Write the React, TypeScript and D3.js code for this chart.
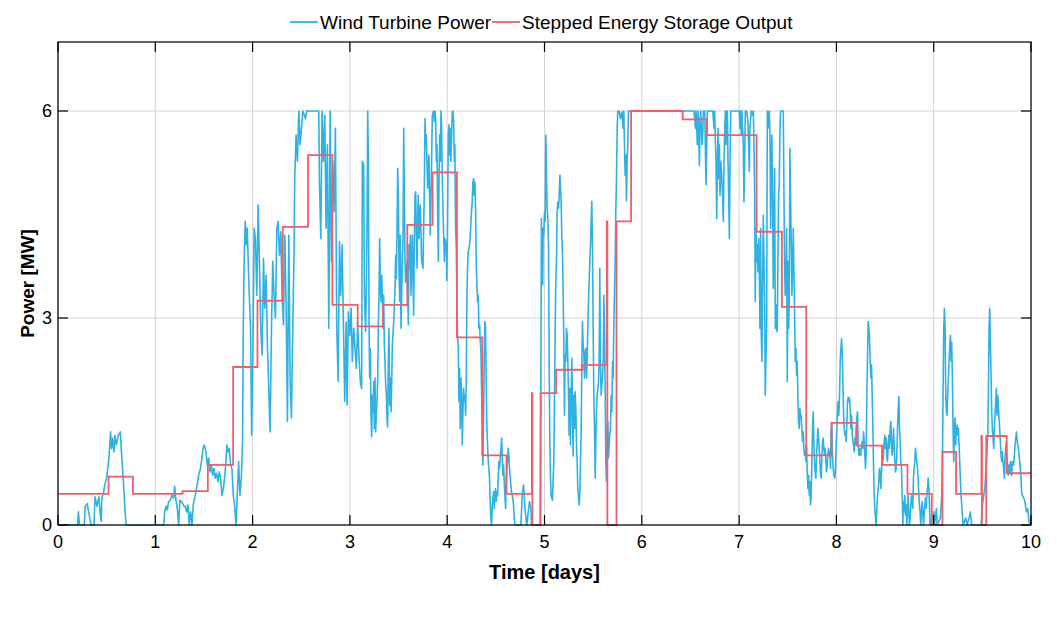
import React from "react";
import * as d3 from "d3";

const W = 1057;
const H = 621;
const M = { left: 58, right: 1031, top: 42, bottom: 525 };

const xTicks = [0, 1, 2, 3, 4, 5, 6, 7, 8, 9, 10];
const yTicks = [0, 3, 6];

const seriesNames = ["Wind Turbine Power", "Stepped Energy Storage Output"];
const seriesColors = ["#2fb2e2", "#ee5f6c"];

// Wind turbine power [days, MW]
const windDay0: [number, number][] = [
  [0, 0], [0.2, 0], [0.21, 0.19], [0.22, 0], [0.27, 0], [0.28, 0.27], [0.3, 0.31], [0.32, 0.15], [0.34, 0],
  [0.37, 0], [0.38, 0.41], [0.4, 0.27], [0.42, 0.41], [0.435, 0.14], [0.445, 0.05], [0.45, 0.39], [0.47, 0.48],
  [0.48, 0.58], [0.5, 0.68], [0.52, 0.92], [0.53, 1.11], [0.54, 1.35], [0.55, 1.11], [0.56, 1.26], [0.575, 1.06],
  [0.585, 1.3], [0.6, 1.16], [0.62, 1.3], [0.64, 1.35], [0.65, 1.11], [0.67, 0.68], [0.69, 0.19], [0.7, 0],
];
const windDay1: [number, number][] = [
  [1.086, 0], [1.096, 0.19], [1.11, 0.27], [1.123, 0.22], [1.137, 0.34], [1.154, 0.36], [1.171, 0.43], [1.188, 0.39],
  [1.199, 0.56], [1.212, 0.36], [1.226, 0.24], [1.24, 0], [1.253, 0.36], [1.267, 0.34], [1.281, 0.31], [1.295, 0.27],
  [1.308, 0.27], [1.322, 0.19], [1.336, 0.29], [1.349, 0], [1.363, 0.19], [1.377, 0], [1.39, 0.29], [1.404, 0.39],
  [1.418, 0.48], [1.432, 0.6], [1.445, 0.72], [1.462, 0.8], [1.479, 0.97], [1.49, 1.11], [1.503, 1.16], [1.521, 1.06],
  [1.534, 0.87], [1.548, 0.97], [1.562, 0.77], [1.575, 0.87], [1.589, 0.72], [1.603, 0.82], [1.616, 0.68], [1.63, 0.75],
  [1.644, 0.63], [1.658, 0.77], [1.671, 0.68], [1.685, 0.43], [1.699, 0.53], [1.712, 0.68], [1.726, 0.92], [1.736, 1.16],
  [1.747, 1.06], [1.76, 1.11], [1.774, 0.87], [1.788, 0.82], [1.801, 0.43], [1.815, 0.29], [1.829, 0], [1.842, 0.43],
  [1.856, 0.92], [1.87, 0.43], [1.884, 0.68], [1.897, 1.21], [1.904, 2.85], [1.911, 3.62], [1.918, 4.15], [1.925, 4.4],
  [1.935, 4.06], [1.945, 4.3], [1.955, 3.82], [1.966, 3.33], [1.979, 2.85], [1.99, 1.3],
];
const windDay2: [number, number][] = [
  [2.002, 2.37], [2.016, 4.3], [2.029, 4.15], [2.043, 3.33], [2.057, 4.64], [2.07, 3.82], [2.084, 2.85], [2.098, 2.46],
  [2.112, 3.86], [2.125, 3.14], [2.139, 3.62], [2.153, 2.56], [2.166, 1.98], [2.18, 1.35], [2.194, 2.85], [2.207, 3.82],
  [2.221, 3.33], [2.235, 3.0], [2.249, 4.3], [2.262, 4.4], [2.276, 3.91], [2.29, 4.25], [2.303, 3.33], [2.317, 2.9],
  [2.331, 4.2], [2.345, 3.14], [2.358, 1.5], [2.372, 4.2], [2.386, 2.08], [2.399, 1.55], [2.413, 2.85], [2.427, 4.06],
  [2.433, 5.02], [2.447, 5.65], [2.461, 5.27], [2.475, 6.0], [2.488, 5.51], [2.502, 5.75], [2.516, 6.0], [2.543, 5.89],
  [2.557, 6.0], [2.68, 6.0], [2.687, 4.98], [2.701, 4.15], [2.714, 6.0], [2.728, 5.27], [2.742, 5.94], [2.755, 4.3],
  [2.769, 5.51], [2.783, 2.85], [2.797, 6.0], [2.81, 3.82], [2.824, 5.27], [2.838, 4.54], [2.851, 5.75], [2.865, 2.85],
  [2.879, 2.08], [2.893, 4.11], [2.906, 3.33], [2.92, 4.06], [2.934, 2.85], [2.947, 1.79], [2.961, 2.94], [2.971, 1.74],
  [2.984, 3.09], [2.998, 2.75],
];
const windDay3: [number, number][] = [
  [3.012, 3.14], [3.025, 2.37], [3.039, 2.85], [3.053, 2.56], [3.066, 2.27], [3.08, 2.94], [3.094, 2.42], [3.107, 2.08],
  [3.121, 1.98], [3.128, 5.27], [3.142, 5.22], [3.149, 3.33], [3.162, 2.8], [3.169, 3.52], [3.176, 4.3], [3.183, 6.0],
  [3.19, 5.27], [3.197, 2.85], [3.203, 2.13], [3.21, 2.56], [3.217, 1.59], [3.224, 1.28], [3.231, 1.88], [3.238, 1.64],
  [3.245, 2.08], [3.251, 1.4], [3.258, 2.13], [3.265, 1.35], [3.272, 1.64], [3.279, 1.79], [3.286, 2.13], [3.292, 2.85],
  [3.299, 3.33], [3.306, 4.15], [3.313, 3.48], [3.32, 3.24], [3.327, 3.62], [3.334, 3.33], [3.34, 2.85], [3.347, 3.33],
  [3.354, 2.61], [3.361, 2.37], [3.368, 2.03], [3.375, 1.88], [3.381, 1.55], [3.388, 1.42], [3.395, 2.37], [3.402, 2.85],
  [3.409, 1.74], [3.416, 2.13], [3.423, 1.64], [3.429, 2.03], [3.436, 2.61], [3.45, 2.94], [3.464, 3.43], [3.47, 3.91],
  [3.477, 3.57], [3.484, 4.2], [3.491, 5.17], [3.498, 4.78], [3.505, 3.67], [3.512, 3.24], [3.518, 4.2], [3.525, 2.85],
  [3.532, 3.33], [3.539, 3.82], [3.546, 4.2], [3.553, 5.75], [3.56, 4.78], [3.566, 3.82], [3.573, 3.52], [3.587, 3.82],
  [3.594, 3.33], [3.601, 2.9], [3.607, 4.06], [3.614, 3.72], [3.621, 4.2], [3.628, 3.33], [3.635, 3.82], [3.642, 4.2],
  [3.649, 3.57], [3.655, 3.04], [3.662, 4.06], [3.669, 4.78], [3.676, 4.83], [3.683, 4.2], [3.69, 3.72], [3.696, 4.4],
  [3.703, 4.78], [3.71, 4.15], [3.724, 4.64], [3.737, 3.82], [3.751, 3.72], [3.765, 4.88], [3.772, 5.89], [3.778, 5.51],
  [3.785, 5.65], [3.792, 5.27], [3.799, 4.88], [3.812, 5.36], [3.826, 4.2], [3.84, 5.27], [3.847, 5.94], [3.86, 6.0],
  [3.867, 5.85], [3.874, 6.0], [3.881, 5.89], [3.888, 5.27], [3.895, 5.51], [3.902, 4.54], [3.909, 3.82], [3.916, 5.02],
  [3.923, 5.65], [3.929, 5.27], [3.936, 6.0], [3.943, 5.75], [3.95, 5.02], [3.957, 4.54], [3.971, 3.82], [3.977, 4.15],
  [3.99, 4.06], [3.997, 3.54],
];
const windDay4: [number, number][] = [
  [4.004, 4.4], [4.011, 5.65], [4.018, 5.8], [4.025, 5.36], [4.032, 5.75], [4.038, 5.27], [4.045, 5.65], [4.052, 5.99],
  [4.059, 6.0], [4.066, 5.85], [4.073, 5.27], [4.079, 5.51], [4.086, 4.3], [4.093, 4.06], [4.1, 3.24], [4.107, 2.75],
  [4.114, 2.56], [4.121, 1.79], [4.127, 2.27], [4.134, 1.4], [4.141, 2.13], [4.148, 1.88], [4.155, 1.16], [4.162, 1.64],
  [4.168, 1.98], [4.175, 1.79], [4.182, 1.88], [4.189, 1.59], [4.196, 2.13], [4.203, 3.33], [4.209, 3.72], [4.216, 3.96],
  [4.223, 4.01], [4.23, 4.06], [4.237, 4.2], [4.244, 4.4], [4.25, 4.54], [4.257, 4.68], [4.264, 4.97], [4.271, 5.02],
  [4.278, 4.78], [4.285, 4.97], [4.292, 4.54], [4.299, 3.72], [4.305, 3.52], [4.312, 3.24], [4.319, 3.33], [4.326, 2.85],
  [4.333, 2.9], [4.34, 2.65], [4.346, 2.56], [4.353, 1.98], [4.36, 1.5], [4.367, 0.87], [4.374, 1.59], [4.381, 2.46],
  [4.387, 2.95], [4.394, 2.85], [4.401, 2.08], [4.408, 1.4], [4.415, 1.16], [4.422, 0.92], [4.428, 0.82], [4.435, 0.68],
  [4.442, 0.34], [4.449, 0.1], [4.456, 0], [4.463, 0.29], [4.47, 0.39], [4.477, 0.48], [4.483, 0.24], [4.49, 0.43],
  [4.497, 0.53], [4.504, 0.34], [4.511, 0.48], [4.518, 0.43], [4.524, 0.68], [4.531, 0.92], [4.538, 0.82], [4.545, 0.97],
  [4.552, 1.11], [4.559, 1.26], [4.565, 1.01], [4.572, 0.72], [4.579, 0.87], [4.586, 0.63], [4.593, 0.43], [4.6, 0.24],
  [4.606, 0.68], [4.613, 0.82], [4.62, 0.92], [4.627, 1.11], [4.634, 1.01], [4.64, 0.82], [4.647, 0.72], [4.654, 0.58],
  [4.661, 0.48], [4.668, 0.43], [4.675, 0.39], [4.682, 0.29], [4.689, 0.1], [4.696, 0], [4.757, 0], [4.771, 0.43],
  [4.785, 0.58], [4.798, 0.29], [4.812, 0.05], [4.819, 0], [4.833, 0.19], [4.846, 0.34], [4.86, 0.24], [4.867, 0],
  [4.955, 0], [4.962, 1.8], [4.968, 4.44], [4.975, 3.82], [4.982, 3.48], [4.986, 4.3], [4.993, 4.2],
];
const windDay5: [number, number][] = [
  [5.0, 4.54], [5.007, 4.4], [5.014, 5.65], [5.021, 5.02], [5.027, 4.59], [5.034, 4.44], [5.041, 4.06], [5.048, 2.37],
  [5.055, 1.16], [5.062, 0.68], [5.068, 0.43], [5.075, 0.39], [5.082, 0.36], [5.089, 0.68], [5.096, 0.92], [5.103, 1.88],
  [5.11, 2.85], [5.116, 3.52], [5.123, 3.82], [5.13, 4.54], [5.137, 4.68], [5.144, 4.59], [5.151, 4.78], [5.158, 5.07],
  [5.164, 4.93], [5.171, 4.68], [5.178, 4.2], [5.185, 3.91], [5.192, 3.33], [5.199, 2.61], [5.205, 1.59], [5.212, 2.46],
  [5.219, 2.37], [5.226, 2.85], [5.233, 2.75], [5.24, 2.37], [5.247, 1.88], [5.253, 1.3], [5.26, 1.98], [5.267, 1.16],
  [5.274, 1.88], [5.281, 2.42], [5.288, 1.59], [5.295, 1.0], [5.301, 1.88], [5.308, 1.4], [5.315, 1.93], [5.322, 1.69],
  [5.329, 1.16], [5.336, 0.92], [5.342, 0.53], [5.349, 0.43], [5.356, 0.29], [5.363, 0.43], [5.37, 0.92], [5.377, 1.4],
  [5.384, 2.37], [5.39, 2.95], [5.397, 2.61], [5.404, 2.51], [5.411, 2.13], [5.418, 2.46], [5.425, 2.56], [5.432, 2.13],
  [5.438, 2.37], [5.445, 2.85], [5.452, 3.24], [5.459, 3.52], [5.466, 3.82], [5.473, 4.06], [5.479, 4.4], [5.486, 4.69],
  [5.493, 4.06], [5.5, 2.85], [5.507, 1.88], [5.514, 1.4], [5.521, 0.68], [5.527, 1.16], [5.534, 1.64], [5.541, 1.88],
  [5.548, 1.98], [5.555, 2.08], [5.562, 2.37], [5.568, 3.72], [5.575, 2.37], [5.582, 1.88], [5.589, 2.03], [5.596, 2.13],
  [5.603, 2.37], [5.61, 3.33], [5.616, 2.85], [5.623, 2.08], [5.63, 0.92], [5.637, 0.63], [5.644, 1.4], [5.651, 1.5],
  [5.658, 0.97], [5.664, 1.16], [5.671, 1.3], [5.678, 1.4], [5.685, 1.88], [5.692, 1.64], [5.699, 2.37], [5.705, 2.13],
  [5.712, 2.85], [5.719, 3.33], [5.726, 3.82], [5.733, 4.54], [5.74, 5.02], [5.747, 5.75], [5.753, 6.0], [5.767, 6.0],
  [5.781, 5.89], [5.795, 5.99], [5.808, 5.75], [5.815, 6.0], [5.822, 5.51], [5.829, 5.07], [5.836, 5.36], [5.842, 4.7],
  [5.849, 5.27], [5.856, 5.51], [5.863, 6.0],
];
const windDay6: [number, number][] = [
  [6.537, 6.0], [6.551, 5.75], [6.557, 6.0], [6.571, 5.51], [6.578, 6.0], [6.592, 5.21], [6.599, 5.85], [6.605, 6.0],
  [6.619, 5.51], [6.626, 5.65], [6.633, 6.0], [6.647, 6.0], [6.66, 4.93], [6.667, 5.51], [6.674, 6.0], [6.729, 6.0],
  [6.743, 5.75], [6.749, 6.0], [6.756, 5.56], [6.763, 5.27], [6.77, 4.44], [6.777, 5.27], [6.784, 5.75], [6.79, 5.02],
  [6.797, 5.51], [6.804, 4.78], [6.811, 5.27], [6.818, 5.17], [6.832, 4.68], [6.838, 4.4], [6.845, 5.27], [6.852, 5.75],
  [6.859, 6.0], [6.866, 5.51], [6.873, 6.0], [6.88, 6.0], [6.886, 5.27], [6.893, 4.78], [6.9, 4.15], [6.907, 5.27],
  [6.914, 6.0], [6.982, 6.0],
];
const windDay7: [number, number][] = [
  [7.002, 6.0], [7.009, 5.75], [7.016, 6.0], [7.022, 5.65], [7.029, 6.0], [7.043, 5.51], [7.05, 4.68], [7.057, 5.27],
  [7.064, 6.0], [7.077, 6.0], [7.091, 5.85], [7.105, 5.12], [7.111, 5.75], [7.125, 6.0], [7.139, 5.94], [7.146, 6.0],
  [7.153, 5.51], [7.16, 4.78], [7.166, 3.24], [7.173, 4.3], [7.18, 3.82], [7.187, 4.06], [7.194, 3.67], [7.201, 4.15],
  [7.208, 3.62], [7.214, 2.85], [7.221, 4.3], [7.228, 2.75], [7.235, 2.37], [7.242, 3.57], [7.249, 4.49], [7.255, 3.91],
  [7.262, 3.33], [7.269, 1.88], [7.276, 2.42], [7.283, 2.85], [7.29, 6.0], [7.297, 5.75], [7.303, 5.94], [7.31, 6.0],
  [7.317, 5.65], [7.324, 4.3], [7.331, 5.27], [7.337, 5.65], [7.344, 4.78], [7.351, 3.43], [7.358, 4.3], [7.365, 5.17],
  [7.372, 2.85], [7.379, 3.19], [7.385, 2.85], [7.392, 2.8], [7.399, 3.82], [7.406, 4.78], [7.413, 4.97], [7.42, 5.75],
  [7.426, 6.0], [7.454, 6.0], [7.461, 4.78], [7.467, 3.82], [7.474, 3.33], [7.481, 3.57], [7.488, 4.3], [7.495, 2.08],
  [7.502, 3.82], [7.509, 2.85], [7.515, 3.24], [7.522, 5.46], [7.529, 4.78], [7.536, 4.06], [7.543, 3.33], [7.55, 3.82],
  [7.557, 4.3], [7.563, 3.72], [7.57, 3.14], [7.577, 2.37], [7.584, 2.56], [7.591, 2.17], [7.597, 2.37], [7.604, 1.88],
  [7.611, 1.5], [7.618, 1.4], [7.625, 1.69], [7.632, 1.55], [7.638, 1.59], [7.645, 1.4], [7.652, 1.21], [7.659, 1.35],
  [7.666, 1.11], [7.673, 1.01], [7.68, 1.06], [7.686, 0.92], [7.693, 1.16], [7.7, 0.77], [7.707, 0.53], [7.714, 0.72],
  [7.721, 0.43], [7.727, 0.63], [7.734, 0.29], [7.741, 0.43], [7.748, 0.92], [7.755, 1.4], [7.762, 1.64], [7.769, 1.16],
  [7.775, 0.92], [7.782, 0.77], [7.789, 0.68], [7.796, 1.01], [7.803, 1.21], [7.81, 1.4], [7.817, 1.26], [7.823, 1.11],
  [7.83, 0.92], [7.837, 0.72], [7.844, 0.68], [7.851, 1.01], [7.858, 1.21], [7.864, 1.26], [7.871, 1.11], [7.878, 1.01],
  [7.885, 1.11], [7.892, 0.92], [7.899, 0.77], [7.905, 0.87], [7.912, 1.01], [7.919, 1.11], [7.926, 1.01], [7.933, 1.06],
  [7.94, 0.82], [7.946, 1.4], [7.953, 1.45], [7.96, 1.01], [7.967, 0.82], [7.974, 0.72], [7.984, 0.68], [7.991, 0.82],
  [7.998, 1.16],
];
const windDay8: [number, number][] = [
  [8.005, 1.4], [8.012, 1.69], [8.018, 1.79], [8.025, 1.59], [8.032, 1.88], [8.039, 2.37], [8.046, 2.56], [8.053, 2.7],
  [8.06, 2.51], [8.066, 2.13], [8.073, 1.64], [8.08, 1.4], [8.087, 1.3], [8.094, 1.35], [8.1, 1.21], [8.107, 1.45],
  [8.114, 1.79], [8.121, 1.85], [8.128, 1.79], [8.135, 1.84], [8.142, 1.69], [8.148, 1.4], [8.155, 1.59], [8.162, 1.35],
  [8.169, 1.21], [8.176, 1.16], [8.183, 1.06], [8.19, 1.26], [8.197, 1.16], [8.203, 1.4], [8.21, 1.55], [8.217, 1.64],
  [8.224, 1.16], [8.231, 1.01], [8.238, 1.11], [8.245, 1.06], [8.251, 1.01], [8.258, 1.16], [8.265, 1.21], [8.272, 1.11],
  [8.279, 1.35], [8.286, 1.21], [8.292, 1.01], [8.299, 0.82], [8.306, 1.06], [8.313, 1.88], [8.32, 2.46], [8.327, 2.95],
  [8.334, 2.85], [8.34, 2.75], [8.347, 2.37], [8.354, 2.13], [8.361, 2.32], [8.368, 1.88], [8.375, 1.4], [8.381, 0.92],
  [8.388, 0.43], [8.395, 0.24], [8.402, 0.1], [8.409, 0], [8.416, 0.24], [8.423, 0.43], [8.429, 0.53], [8.436, 0.63],
  [8.443, 0.82], [8.45, 0.72], [8.457, 0.53], [8.464, 0.77], [8.471, 1.11], [8.477, 0.92], [8.484, 1.01], [8.491, 1.21],
  [8.498, 1.3], [8.505, 1.11], [8.512, 1.26], [8.518, 1.01], [8.525, 0.92], [8.532, 1.16], [8.539, 1.3], [8.546, 1.11],
  [8.553, 1.4], [8.56, 1.5], [8.566, 1.21], [8.573, 1.01], [8.58, 1.11], [8.587, 1.4], [8.594, 1.16], [8.601, 0.92],
  [8.607, 0.77], [8.614, 0.82], [8.621, 1.01], [8.628, 1.4], [8.635, 1.69], [8.642, 1.86], [8.648, 1.4], [8.655, 1.21],
  [8.662, 0.92], [8.669, 0.82], [8.676, 0.43], [8.683, 0], [8.689, 0.34], [8.696, 0.19], [8.703, 0.43], [8.71, 0.14],
  [8.717, 0.29], [8.724, 0], [8.73, 0.24], [8.737, 0.43], [8.744, 0.19], [8.751, 0], [8.758, 0.1], [8.765, 0.29],
  [8.771, 0.43], [8.778, 0.39], [8.785, 0.24], [8.792, 0.68], [8.799, 0.82], [8.806, 0.92], [8.813, 1.11], [8.819, 1.01],
  [8.826, 0.92], [8.833, 0.82], [8.84, 0.68], [8.847, 0.43], [8.854, 0.29], [8.86, 0.19], [8.867, 0], [8.874, 0.19],
  [8.881, 0.34], [8.888, 0.19], [8.895, 0], [8.902, 0.14], [8.908, 0.29], [8.915, 0.39], [8.922, 0.24], [8.929, 0.43],
  [8.936, 0.53], [8.943, 0.68], [8.95, 0.55], [8.956, 0.3], [8.963, 0],
];
const windDay9: [number, number][] = [
  [9.001, 0.19], [9.008, 0], [9.028, 0.24], [9.035, 0], [9.069, 0.1], [9.083, 0.43], [9.09, 0.92], [9.096, 1.88],
  [9.103, 2.85], [9.11, 3.14], [9.117, 2.85], [9.124, 1.88], [9.131, 1.64], [9.137, 1.59], [9.144, 1.88], [9.151, 2.13],
  [9.158, 2.37], [9.165, 2.61], [9.172, 2.75], [9.179, 2.37], [9.185, 2.65], [9.192, 2.13], [9.199, 1.4], [9.206, 0.92],
  [9.213, 1.4], [9.219, 1.55], [9.226, 1.16], [9.233, 1.4], [9.24, 1.45], [9.247, 1.3], [9.254, 1.4], [9.261, 1.16],
  [9.267, 0.92], [9.274, 0.68], [9.281, 0.43], [9.288, 0.29], [9.295, 0.14], [9.302, 0], [9.329, 0.1], [9.343, 0],
  [9.37, 0.14], [9.377, 0.19], [9.391, 0], [9.487, 0], [9.501, 0.29], [9.514, 0.43], [9.528, 0.58], [9.542, 0.92],
  [9.556, 1.3], [9.562, 1.88], [9.569, 2.85], [9.576, 3.14], [9.583, 2.61], [9.59, 2.13], [9.596, 1.64], [9.603, 1.4],
  [9.61, 1.26], [9.617, 1.11], [9.624, 1.4], [9.63, 1.59], [9.637, 1.79], [9.644, 1.98], [9.651, 1.59], [9.658, 1.88],
  [9.664, 1.74], [9.671, 1.55], [9.678, 1.4], [9.685, 1.21], [9.692, 1.01], [9.699, 0.92], [9.706, 1.06], [9.712, 0.92],
  [9.719, 0.82], [9.726, 0.68], [9.733, 0.97], [9.74, 1.11], [9.747, 1.21], [9.753, 1.01], [9.76, 0.82], [9.767, 0.72],
  [9.774, 0.87], [9.781, 0.77], [9.788, 0.92], [9.795, 0.77], [9.801, 0.72], [9.808, 0.92], [9.822, 0.87], [9.836, 1.16],
  [9.85, 1.35], [9.856, 1.26], [9.863, 1.16], [9.87, 1.11], [9.877, 1.01], [9.884, 0.92], [9.89, 0.82], [9.897, 0.68],
  [9.904, 0.48], [9.911, 0.43], [9.925, 0.39], [9.938, 0.34], [9.952, 0.19], [9.966, 0.24], [9.979, 0.05], [10, 0],
];

// Stepped energy storage output: step start times [days] and levels [MW]
const storageTimes = [
  0, 0.52, 0.77, 1.28, 1.54, 1.8, 2.05, 2.31, 2.57, 2.82, 3.08, 3.34, 3.59, 3.85, 4.1, 4.36, 4.61, 4.87, 4.876, 4.96,
  5.12, 5.39, 5.64, 5.646, 5.74, 5.89, 6.42, 6.67, 7.18, 7.44, 7.69, 7.95, 8.21, 8.47, 8.73, 8.98, 9.09, 9.23, 9.49,
  9.496, 9.54, 9.75, 10,
];
const storageValues = [
  0.45, 0.7, 0.45, 0.49, 0.87, 2.29, 3.25, 4.32, 5.36, 3.19, 2.88, 3.19, 4.35, 5.11, 2.72, 1.01, 0.45, 1.91, 0, 1.91,
  2.25, 2.32, 4.4, 0, 4.4, 6.0, 5.88, 5.65, 4.25, 3.16, 1.01, 1.48, 1.15, 0.87, 0.45, 0, 1.06, 0.45, 1.29, 0, 1.29,
  0.75, 0.75,
];

export default function App() {
  const x = d3.scaleLinear().domain([0, 10]).range([M.left, M.right]);
  const y = d3.scaleLinear().domain([0, 7]).range([M.bottom, M.top]);

  const wind = [
    ...windDay0, ...windDay1, ...windDay2, ...windDay3, ...windDay4,
    ...windDay5, ...windDay6, ...windDay7, ...windDay8, ...windDay9,
  ];
  const storage: [number, number][] = storageTimes.map((t, i) => [t, storageValues[i]]);

  const windLine = d3
    .line<[number, number]>()
    .x((d) => x(d[0]))
    .y((d) => y(d[1]));
  const stepLine = d3
    .line<[number, number]>()
    .x((d) => x(d[0]))
    .y((d) => y(d[1]))
    .curve(d3.curveStepAfter);

  const font = "'Liberation Sans', Arial, Helvetica, sans-serif";
  const tickLen = 10;

  return (
    <svg
      width={W}
      height={H}
      style={{ position: "absolute", left: 0, top: 0, background: "#fff" }}
      fontFamily={font}
    >
      <rect x={0} y={0} width={W} height={H} fill="#fff" />
      {/* grid */}
      {xTicks.map((t) => (
        <line key={"gx" + t} x1={x(t)} x2={x(t)} y1={M.top} y2={M.bottom} stroke="#d4d4d4" strokeWidth={1} />
      ))}
      {yTicks.map((t) => (
        <line key={"gy" + t} x1={M.left} x2={M.right} y1={y(t)} y2={y(t)} stroke="#d4d4d4" strokeWidth={1} />
      ))}
      {/* series */}
      <path d={windLine(wind) || ""} fill="none" stroke={seriesColors[0]} strokeWidth={1.6} strokeLinejoin="round" />
      <path d={stepLine(storage) || ""} fill="none" stroke={seriesColors[1]} strokeWidth={1.8} />
      {/* box */}
      <rect
        x={M.left}
        y={M.top}
        width={M.right - M.left}
        height={M.bottom - M.top}
        fill="none"
        stroke="#000"
        strokeWidth={1.2}
      />
      {/* ticks */}
      {xTicks.map((t) => (
        <g key={"tx" + t}>
          <line x1={x(t)} x2={x(t)} y1={M.bottom} y2={M.bottom - tickLen} stroke="#000" strokeWidth={1.2} />
          <line x1={x(t)} x2={x(t)} y1={M.top} y2={M.top + tickLen} stroke="#000" strokeWidth={1.2} />
          <text x={x(t)} y={548} textAnchor="middle" fontSize={18} fill="#000">
            {t}
          </text>
        </g>
      ))}
      {yTicks.map((t) => (
        <g key={"ty" + t}>
          <line x1={M.left} x2={M.left + tickLen} y1={y(t)} y2={y(t)} stroke="#000" strokeWidth={1.2} />
          <line x1={M.right} x2={M.right - tickLen} y1={y(t)} y2={y(t)} stroke="#000" strokeWidth={1.2} />
          <text x={M.left - 6} y={y(t) + 6} textAnchor="end" fontSize={18} fill="#000">
            {t}
          </text>
        </g>
      ))}
      {/* axis titles */}
      <text x={(M.left + M.right) / 2} y={579} textAnchor="middle" fontSize={20} fontWeight="bold" fill="#000">
        Time [days]
      </text>
      <text
        transform={`translate(34, ${(M.top + M.bottom) / 2}) rotate(-90)`}
        textAnchor="middle"
        fontSize={19}
        fontWeight="bold"
        fill="#000"
      >
        Power [MW]
      </text>
      {/* legend */}
      <g>
        <line x1={290} x2={318} y1={22} y2={22} stroke={seriesColors[0]} strokeWidth={1.8} />
        <text x={320} y={29} fontSize={19} fill="#000">
          {seriesNames[0]}
        </text>
        <line x1={492} x2={520} y1={22} y2={22} stroke={seriesColors[1]} strokeWidth={1.8} />
        <text x={522} y={29} fontSize={19} fill="#000">
          {seriesNames[1]}
        </text>
      </g>
    </svg>
  );
}
